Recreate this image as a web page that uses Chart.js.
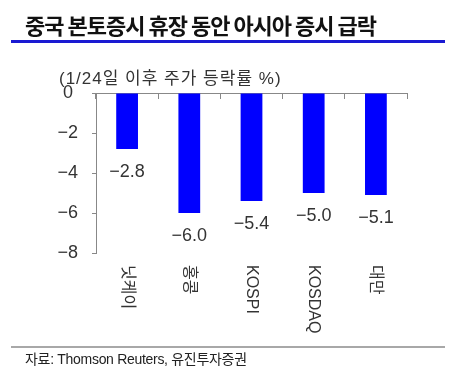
<!DOCTYPE html>
<html><head><meta charset="utf-8">
<script src="https://cdn.jsdelivr.net/npm/chart.js@4"></script>
<style>
html,body{margin:0;padding:0;background:#fff;width:452px;height:381px;overflow:hidden;}
#wrap{position:relative;width:452px;height:381px;}
#c{position:absolute;left:0;top:0;}
.title{position:absolute;left:25px;top:9px;font-family:"Noto Sans CJK KR";font-weight:bold;font-size:22px;letter-spacing:-1px;color:#111;white-space:nowrap;line-height:30px;}
.bline{position:absolute;left:11px;top:40px;width:434px;height:2.5px;background:#1a1ad2;}
.gline{position:absolute;left:11px;top:346px;width:434px;height:2px;background:#a8a8a8;}
.src{position:absolute;left:25px;top:349px;font-family:"Liberation Sans","Noto Sans CJK KR";font-size:14px;letter-spacing:-0.3px;color:#222;white-space:nowrap;line-height:20px;}
.atitle{position:absolute;left:59px;top:69px;font-family:"Liberation Sans","Noto Sans CJK KR";font-size:17px;letter-spacing:1px;color:#333;white-space:nowrap;line-height:20px;}
</style></head>
<body>
<div id="wrap">
<canvas id="c" width="452" height="381"></canvas>
<div class="title" id="title"></div>
<div class="bline"></div>
<div class="atitle" id="atitle"></div>
<div class="gline"></div>
<div class="src" id="src"></div>
</div>
<script>
const titleText = '중국 본토증시 휴장 동안 아시아 증시 급락';
const axisTitle = '(1/24일 이후 주가 등락률 %)';
const sourceText = '자료: Thomson Reuters, 유진투자증권';
const categories = ['닛케이', '홍콩', 'KOSPI', 'KOSDAQ', '대만'];
const changes = [-2.8, -6.0, -5.4, -5.0, -5.1];
const yTicks = [0, -2, -4, -6, -8];

document.getElementById('title').textContent = titleText;
document.getElementById('atitle').textContent = axisTitle;
document.getElementById('src').textContent = sourceText;

const fmt = v => v === 0 ? '0 ' : '\u2212' + Math.abs(v);
const fmt1 = v => '\u2212' + Math.abs(v).toFixed(1);

const labelPlugin = {
  id: 'labels',
  afterDatasetsDraw(chart) {
    const ctx = chart.ctx;
    const meta = chart.getDatasetMeta(0);
    ctx.save();
    ctx.fillStyle = '#333';
    ctx.font = '18px "Liberation Sans"';
    ctx.textAlign = 'center';
    ctx.textBaseline = 'middle';
    meta.data.forEach((bar, i) => {
      ctx.fillText(fmt1(changes[i]), bar.x, bar.y + 23);
    });
    const xs = chart.scales.x;
    const top = chart.chartArea.bottom + 12;
    ctx.font = '16px "Liberation Sans","Noto Sans CJK KR"';
    ctx.textAlign = 'left';
    categories.forEach((c, i) => {
      const x = xs.getPixelForTick(i);
      ctx.save();
      ctx.translate(x, top);
      ctx.rotate(Math.PI / 2);
      ctx.fillText(c, 0, 0);
      ctx.restore();
    });
    ctx.restore();
  }
};

new Chart(document.getElementById('c'), {
  type: 'bar',
  data: {
    labels: categories,
    datasets: [{
      data: changes,
      backgroundColor: '#0000ff',
      borderWidth: 0,
      categoryPercentage: 1,
      barPercentage: 0.35
    }]
  },
  options: {
    responsive: false,
    animation: false,
    devicePixelRatio: 1,
    layout: { padding: { top: 93, left: 0, right: 45, bottom: 128 } },
    plugins: { legend: { display: false }, tooltip: { enabled: false } },
    scales: {
      x: {
        position: { y: 0 },
        grid: { display: true, drawOnChartArea: false, drawTicks: true, tickLength: 5, color: '#888', offset: true },
        border: { display: true, color: '#888', width: 1 },
        ticks: { display: false },
        afterFit: s => { s.height = 0; }
      },
      y: {
        min: -8, max: 0,
        afterBuildTicks: s => { s.ticks = yTicks.map(v => ({ value: v })); },
        grid: { display: true, drawOnChartArea: false, drawTicks: true, tickLength: 4, color: '#888' },
        border: { display: true, color: '#888', width: 1 },
        ticks: { color: '#333', font: { family: '"Liberation Sans"', size: 18 }, padding: 14, callback: fmt },
        afterFit: s => { s.width = 96; }
      }
    }
  },
  plugins: [labelPlugin]
});
</script>
</body></html>
